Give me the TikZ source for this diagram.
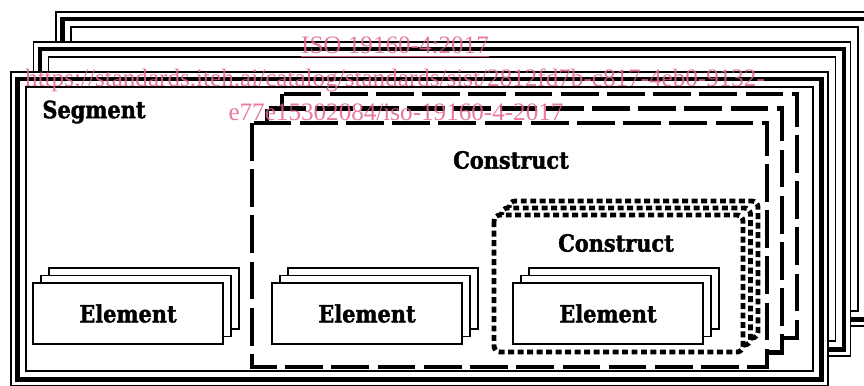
\documentclass[tikz,border=0pt]{standalone}
\usepackage{fontspec}
\newfontfamily\lblfont[BoldFeatures={FakeBold=1.6},FakeStretch=0.88]{DejaVu Serif}
\newfontfamily\wmfont{Liberation Serif}
\definecolor{wmpink}{RGB}{228,100,138}

\begin{document}
\begin{tikzpicture}[x=0.02cm,y=-0.02cm,
  thinline/.style={line width=0.85pt},
  thickline/.style={line width=2.8pt},
  constructline/.style={line width=2.8pt,dash pattern=on 21.5pt off 4.8pt},
  dotline/.style={line width=2.8pt,dash pattern=on 3.4pt off 2pt,rounded corners=3.5pt},
  elementbox/.style={draw,fill=white,line width=0.85pt},
  lbl/.style={font=\lblfont\bfseries\fontsize{13.5}{15}\selectfont,inner sep=0pt},
  wmark/.style={font=\wmfont\fontsize{14.3}{16}\selectfont,text=wmpink,text opacity=0.85,inner sep=0pt}]
\useasboundingbox (0,0) rectangle (864,385);
% segments, back to front
\foreach \dx/\dy in {45/-60,22.5/-30,0/0}{
  \begin{scope}[shift={(\dx,\dy)}]
  \fill[white] (11,72) rectangle (828,386);
  \draw[thinline] (11,72) rectangle (828,386);
  \draw[thickline] (17.5,79) rectangle (821.5,379.5);
  \draw[thinline] (26,87) rectangle (813,371);
  \end{scope}
}
% dashed constructs
\foreach \dx/\dy in {30/-29,15/-14.5,0/0}{
  \draw[constructline,fill=white,shift={(\dx,\dy)}] (252,123) rectangle (767,367);
}
% dotted constructs
\foreach \dx/\dy in {15/-14,7.5/-7,0/0}{
  \draw[dotline,fill=white,shift={(\dx,\dy)}] (494,215) rectangle (743,352);
}
% element stacks
\foreach \ex/\nm in {33/elema,272/elemb,513/elemc}{
  \foreach \dx/\dy in {16/-15,8/-7.5,0/0}{
    \draw[elementbox,shift={(\ex+\dx,\dy)}] (0,283) rectangle (190,344);
  }
  \node[lbl] (\nm) at (\ex+95,313.5) {Element};
}
\node[lbl] (segment) at (94,112) {Segment};
\node[lbl] (construct) at (511,160) {Construct};
\node[lbl] (subconstruct) at (616,243) {Construct};
% watermark
\node[wmark] (wmtitle) at (395,47) {\underline{ISO 19160-4:2017}};
\node[wmark] (wmurl) at (395,80) {https://standards.iteh.ai/catalog/standards/sist/2812fd7b-c817-4eb0-9132-};
\node[wmark] (wmid) at (396,112) {e77e15302084/iso-19160-4-2017};
\end{tikzpicture}
\end{document}
